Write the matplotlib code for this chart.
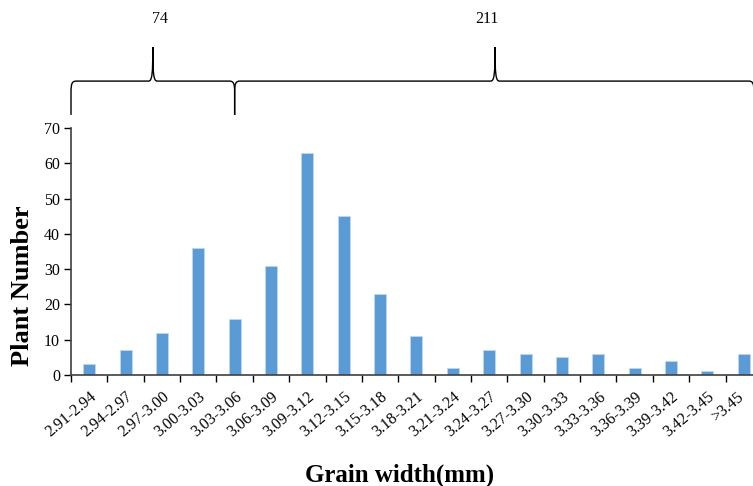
import matplotlib.pyplot as plt
import numpy as np
from matplotlib.path import Path
import matplotlib.patches as mpatches

categories = ['2.91-2.94', '2.94-2.97', '2.97-3.00', '3.00-3.03', '3.03-3.06',
              '3.06-3.09', '3.09-3.12', '3.12-3.15', '3.15-3.18', '3.18-3.21',
              '3.21-3.24', '3.24-3.27', '3.27-3.30', '3.30-3.33', '3.33-3.36',
              '3.36-3.39', '3.39-3.42', '3.42-3.45', '>3.45']
counts = [3, 7, 12, 36, 16, 31, 63, 45, 23, 11, 2, 7, 6, 5, 6, 2, 4, 1, 6]

# group braces: (left end, tip, right end, label x, label)
groups = [(-0.5, 1.75, 4.0, 1.95, '74'),
          (4.0, 11.16, 18.28, 10.94, '211')]

plt.rcParams['font.family'] = ['Liberation Serif', 'DejaVu Serif']

fig = plt.figure(figsize=(7.53, 4.86), dpi=100)
ax = fig.add_axes([0.0943, 0.2284, 0.9176, 0.5082])

x = np.arange(len(categories))
ax.bar(x, counts, width=0.33, color='#5B9BD5', edgecolor='#BDD7EE', linewidth=0.6, zorder=2)

ax.set_xlim(-0.5, len(categories) - 0.5)
ax.set_ylim(0, 70)
ax.set_yticks(np.arange(0, 71, 10))
ax.tick_params(axis='y', labelsize=11.5, length=5, width=1, direction='out', pad=3)

ax.set_xticks(np.arange(-0.5, len(categories), 1.0))
ax.set_xticklabels([])
ax.tick_params(axis='x', which='major', length=5, width=1, direction='out')
label_pos = x.astype(float)
label_pos[-1] -= 0.2
ax.set_xticks(label_pos, minor=True)
ax.set_xticklabels(categories, minor=True, rotation=40, ha='right', va='top',
                   rotation_mode='anchor', fontsize=11.5)
ax.tick_params(axis='x', which='minor', length=0, pad=10)

for s in ['top', 'right']:
    ax.spines[s].set_visible(False)
ax.spines['left'].set_color('#404040')
ax.spines['bottom'].set_color('#404040')
ax.spines['left'].set_linewidth(1.2)
ax.spines['bottom'].set_linewidth(1.2)

ax.set_ylabel('Plant Number', fontsize=19, fontweight='bold')
ax.yaxis.set_label_coords(-0.054, 0.36)
ax.set_xlabel('Grain width(mm)', fontsize=18, fontweight='bold')
ax.xaxis.set_label_coords(0.476, -0.36)

# braces above the plot
trans = ax.get_xaxis_transform()
y_low, y_mid, y_tip = 1.053, 1.19, 1.328
dx, dy = 0.15, 0.045
cw = 0.12
for x0, xt, x1, lx, lab in groups:
    verts = [(x0, y_low), (x0, y_mid - dy),
             (x0, y_mid - dy * 0.2), (x0 + dx * 0.2, y_mid), (x0 + dx, y_mid),
             (xt - cw, y_mid),
             (xt - cw * 0.15, y_mid), (xt, y_mid + 0.03), (xt, y_tip),
             (xt, y_mid + 0.03), (xt + cw * 0.15, y_mid), (xt + cw, y_mid),
             (x1 - dx, y_mid),
             (x1 - dx * 0.2, y_mid), (x1, y_mid - dy * 0.2), (x1, y_mid - dy),
             (x1, y_low)]
    codes = [Path.MOVETO, Path.LINETO,
             Path.CURVE4, Path.CURVE4, Path.CURVE4,
             Path.LINETO,
             Path.CURVE4, Path.CURVE4, Path.CURVE4,
             Path.CURVE4, Path.CURVE4, Path.CURVE4,
             Path.LINETO,
             Path.CURVE4, Path.CURVE4, Path.CURVE4,
             Path.LINETO]
    patch = mpatches.PathPatch(Path(verts, codes), facecolor='none', edgecolor='black',
                               linewidth=1.0, transform=trans, clip_on=False)
    ax.add_patch(patch)
    ax.text(lx, 1.44, lab, transform=trans, ha='center', va='center', fontsize=11.5)

fig.savefig('out.png', dpi=100)
